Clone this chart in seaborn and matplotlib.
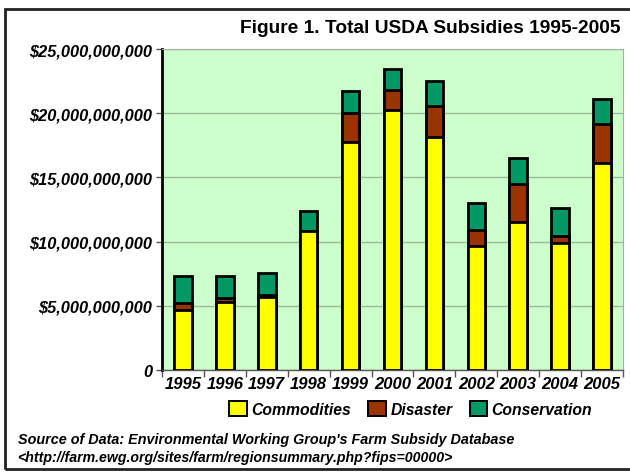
import matplotlib
matplotlib.use('Agg')
import matplotlib.pyplot as plt
import matplotlib.ticker as mticker
from matplotlib.patches import Patch, Rectangle
import seaborn as sns
import numpy as np
import pandas as pd

# values in billions of dollars
years = ['1995', '1996', '1997', '1998', '1999', '2000',
         '2001', '2002', '2003', '2004', '2005']
commodities = [4.68, 5.32, 5.66, 10.83, 17.79, 20.26, 18.13, 9.64, 11.56, 9.87, 16.13]
disaster = [0.57, 0.26, 0.18, 0.0, 2.21, 1.56, 2.44, 1.27, 2.93, 0.60, 3.06]
conservation = [2.07, 1.74, 1.69, 1.59, 1.74, 1.63, 1.98, 2.08, 2.06, 2.18, 1.90]

df = pd.DataFrame({'year': years,
                   'Commodities': np.array(commodities) * 1e9,
                   'Disaster': np.array(disaster) * 1e9,
                   'Conservation': np.array(conservation) * 1e9})
df['c1'] = df['Commodities']
df['c2'] = df['c1'] + df['Disaster']
df['c3'] = df['c2'] + df['Conservation']

colors = {'Commodities': '#ffff00', 'Disaster': '#993300', 'Conservation': '#009966'}

sns.set_style('white')
plt.rcParams['font.family'] = ['Liberation Sans', 'DejaVu Sans']
plt.rcParams['text.color'] = 'black'
plt.rcParams['xtick.color'] = 'black'
plt.rcParams['ytick.color'] = 'black'

fig = plt.figure(figsize=(6.3, 4.77), dpi=100)
ax = fig.add_axes([0.257, 0.222, 0.732, 0.673])
ax.set_facecolor('#ccffcc')

# draw stacked bars back to front
for col, name in [('c3', 'Conservation'), ('c2', 'Disaster'), ('c1', 'Commodities')]:
    sns.barplot(data=df, x='year', y=col, color=colors[name], saturation=1,
                width=0.42, edgecolor='black', linewidth=2, ax=ax, zorder=3)

ax.set_ylim(0, 25e9)
ax.set_xlim(-0.5, 10.5)
ax.set_yticks(np.arange(0, 25e9 + 1, 5e9))
ax.yaxis.set_major_formatter(mticker.FuncFormatter(
    lambda v, p: '0' if v == 0 else '${:,.0f}'.format(v)))
ax.grid(axis='y', color='#99bb99', linewidth=1, zorder=0)
ax.set_axisbelow(True)
ax.set_xlabel('')
ax.set_ylabel('')

ax.set_xticks(np.arange(-0.5, 11, 1), minor=True)
ax.tick_params(axis='x', which='major', length=0, pad=4)
ax.tick_params(axis='x', which='minor', length=5, width=1, color='#555555', bottom=True)
ax.tick_params(axis='y', length=4, width=1, color='#555555', left=True, pad=3)
for lab in ax.get_yticklabels():
    lab.set_fontweight('bold')
    lab.set_fontstyle('italic')
    lab.set_fontsize(11.8)
for lab in ax.get_xticklabels():
    lab.set_fontweight('bold')
    lab.set_fontstyle('italic')
    lab.set_fontsize(12)

for side in ['top', 'right']:
    ax.spines[side].set_color('#aaaaaa')
    ax.spines[side].set_linewidth(0.8)
ax.spines['left'].set_color('black')
ax.spines['left'].set_linewidth(2)
ax.spines['bottom'].set_color('#555555')
ax.spines['bottom'].set_linewidth(1)

fig.text(0.985, 0.94, 'Figure 1. Total USDA Subsidies 1995-2005', ha='right', va='center',
         fontsize=13.8, fontweight='bold')

handles = [Patch(facecolor=colors[n], edgecolor='black', linewidth=1.4, label=n)
           for n in ['Commodities', 'Disaster', 'Conservation']]
fig.legend(handles=handles, loc='center', bbox_to_anchor=(0.652, 0.140), ncol=3,
           frameon=False, prop={'weight': 'bold', 'style': 'italic', 'size': 11.3},
           handlelength=1.1, handleheight=1.1, handletextpad=0.3, columnspacing=1.1)

fig.text(0.028, 0.077, "Source of Data: Environmental Working Group's Farm Subsidy Database",
         fontsize=10.4, fontweight='bold', fontstyle='italic', va='center')
fig.text(0.028, 0.040, '<http://farm.ewg.org/sites/farm/regionsummary.php?fips=00000>',
         fontsize=10.2, fontweight='bold', fontstyle='italic', va='center')

fig.patches.append(Rectangle((0.008, 0.015), 1.1, 0.965, transform=fig.transFigure,
                             fill=False, edgecolor='#222222', linewidth=2))

fig.savefig('out.png', dpi=100)
